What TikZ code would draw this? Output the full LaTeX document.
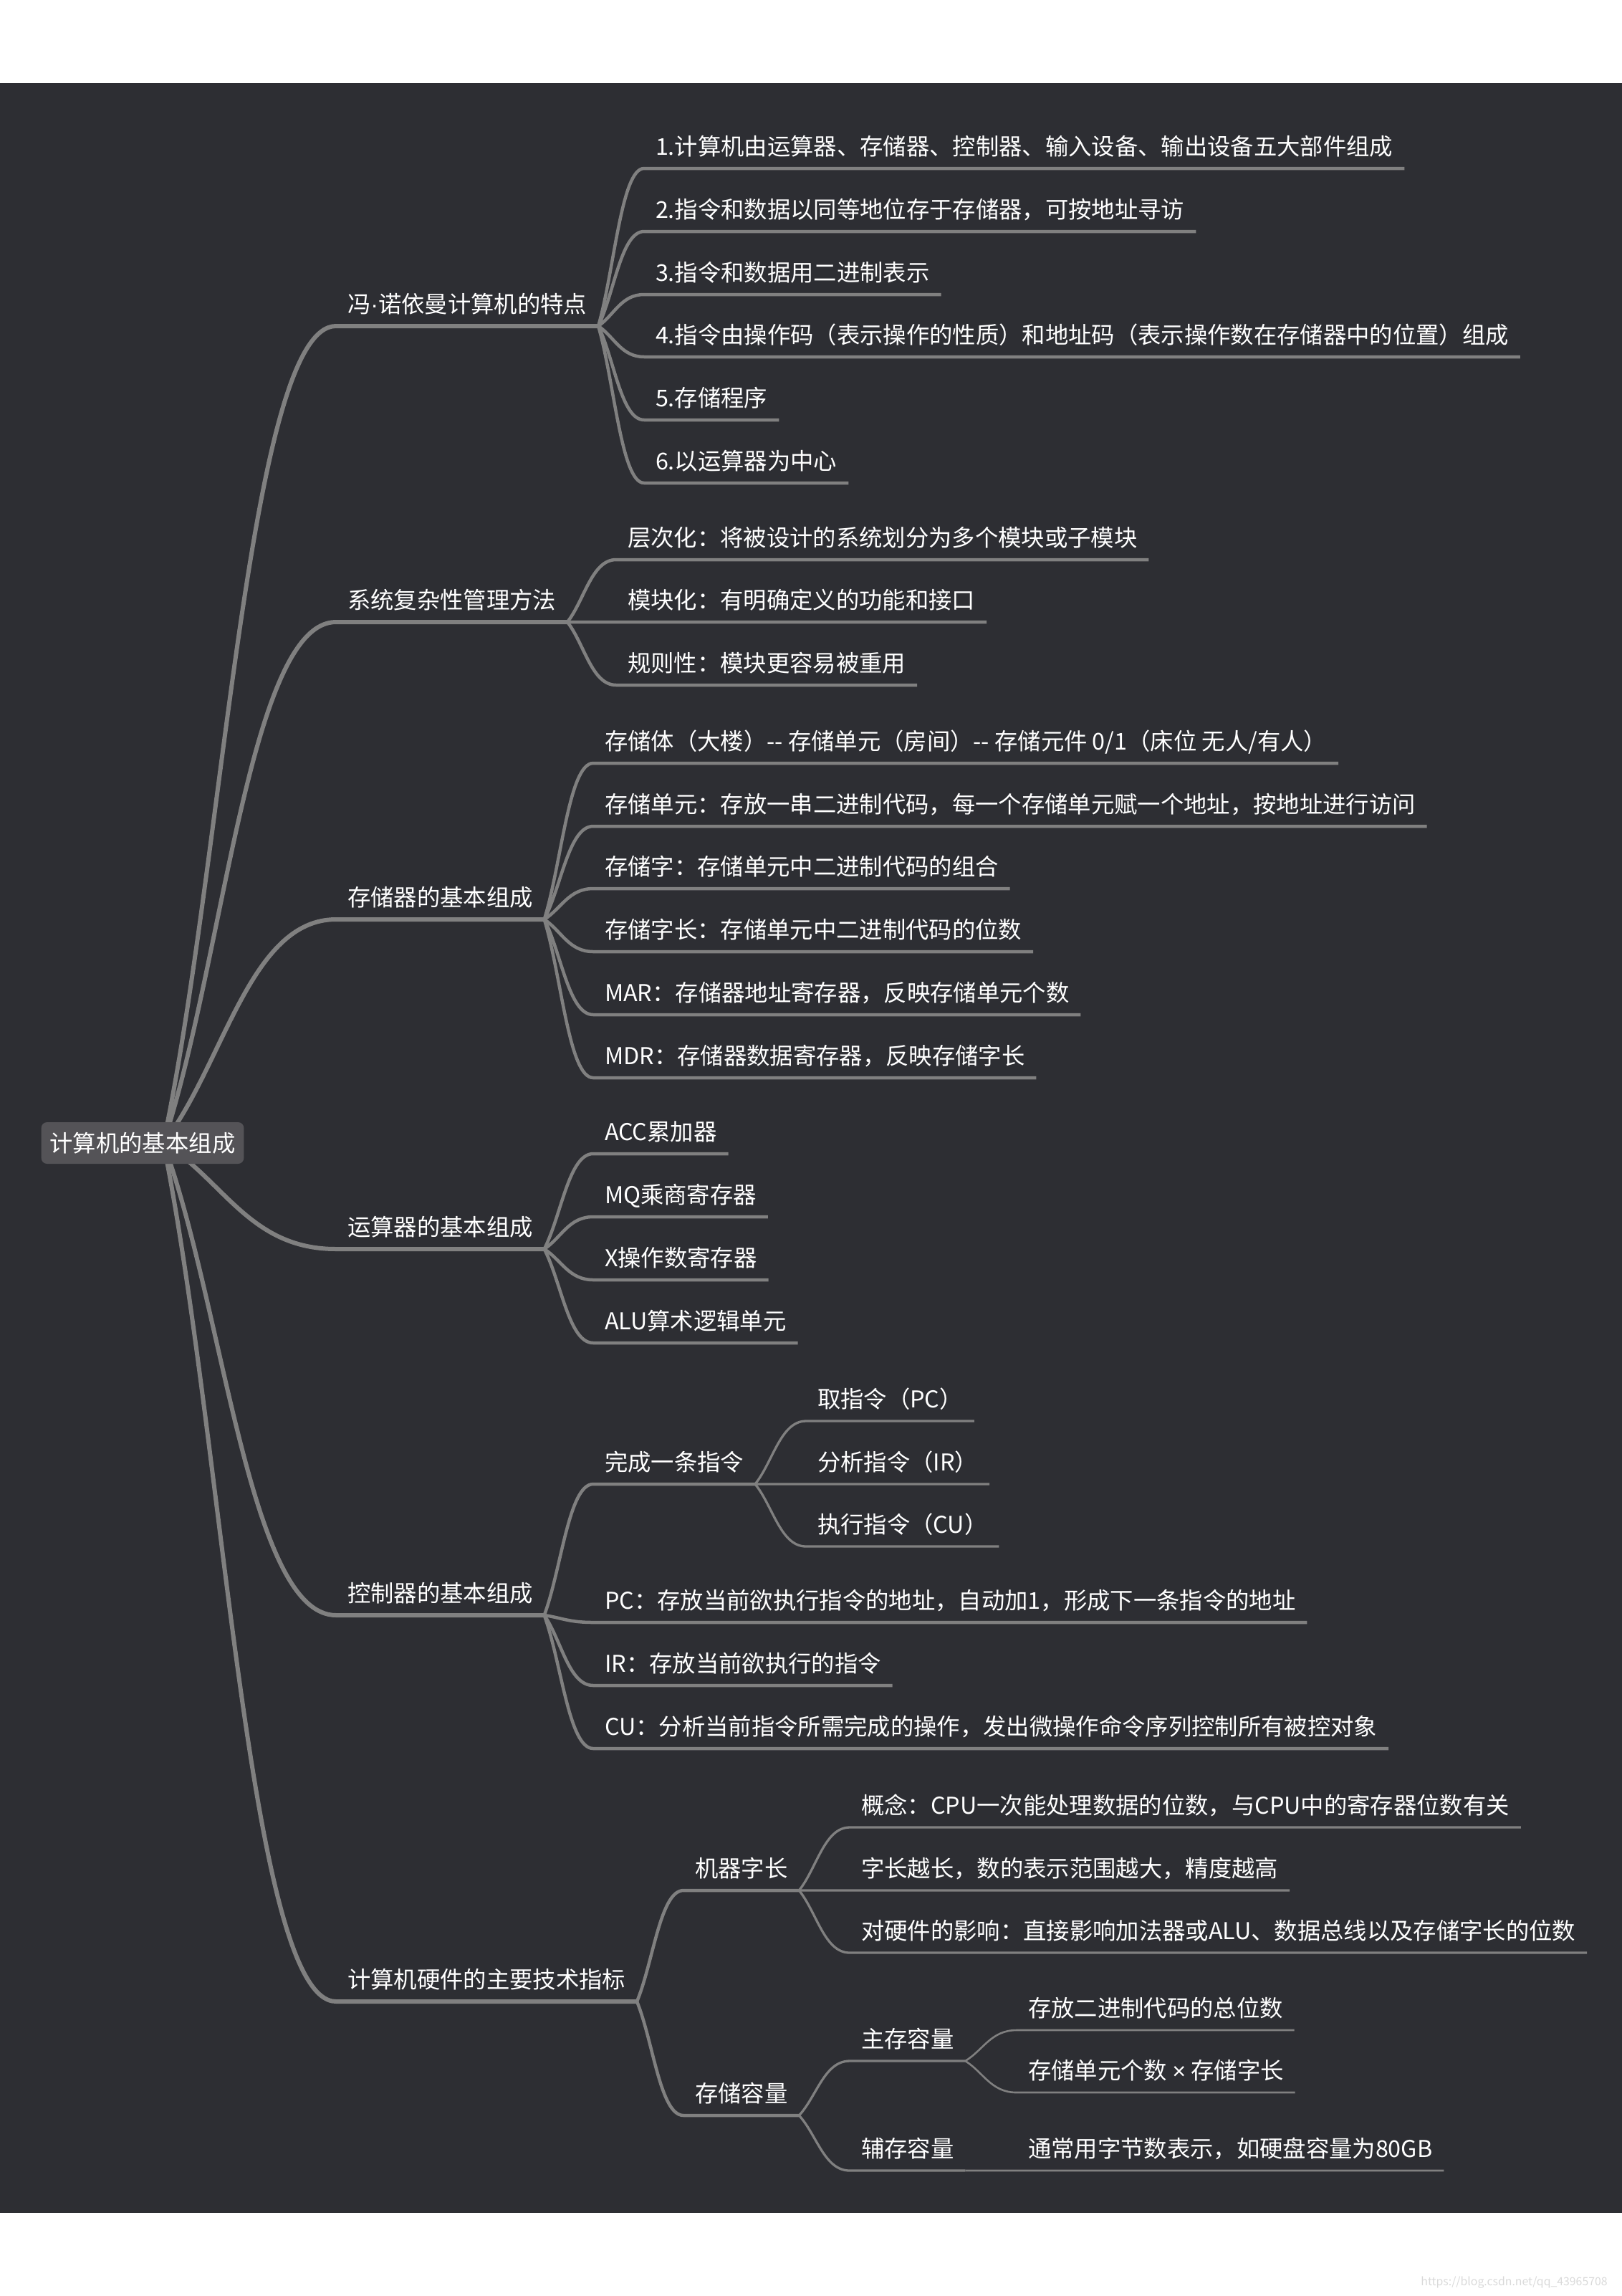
\documentclass[tikz,border=0pt]{standalone}
\usepackage{fontspec}
\setmainfont{Noto Sans CJK SC}
\newfontfamily\latinfont{Liberation Sans}
\usepackage{tikz}
\usetikzlibrary{calc}
\definecolor{canvas}{HTML}{2D2E33}
\definecolor{linegray}{HTML}{808080}
\definecolor{rootfill}{HTML}{545357}
\definecolor{markgray}{HTML}{D9D9D9}
\pgfdeclarelayer{background}
\pgfsetlayers{background,main}

\begin{document}
\begin{tikzpicture}[y=-1cm, line cap=round, line join=round,
font=\fontsize{9.2pt}{11pt}\selectfont,
root_style/.style={fill=rootfill,text=white,rounded corners=0.08cm,minimum height=0.58cm,inner xsep=0.12cm},
topic_style/.style={anchor=south west,text=white,inner xsep=0.16cm,inner ysep=0.13cm,text depth=0.06cm,outer sep=0pt},
branch_curve/.style={to path={.. controls ($(\tikztostart)!0.35!(\tikztotarget)$) and ($(\tikztotarget)!0.5!(\tikztostart |- \tikztotarget)$) .. (\tikztotarget)}},
edge_one/.style={draw=linegray, line width=0.06cm},
edge_two/.style={draw=linegray, line width=0.045cm},
edge_three/.style={draw=linegray, line width=0.033cm},
edge_four/.style={draw=linegray, line width=0.026cm}]
\useasboundingbox (0,0) rectangle (22.64,32.04);

\node[root_style] (root) at (1.99,15.95) {计算机的基本组成};
\coordinate (rootc) at ([xshift=0.29cm]root.center);

% first branch
\node[topic_style] (feat) at (4.69,4.55) {冯{\latinfont ·}诺依曼计算机的特点};
\node[topic_style] (feat1) at (8.99,2.35) {1.计算机由运算器、存储器、控制器、输入设备、输出设备五大部件组成};
\node[topic_style] (feat2) at (8.99,3.23) {2.指令和数据以同等地位存于存储器，可按地址寻访};
\node[topic_style] (feat3) at (8.99,4.11) {3.指令和数据用二进制表示};
\node[topic_style] (feat4) at (8.99,4.98) {4.指令由操作码（表示操作的性质）和地址码（表示操作数在存储器中的位置）组成};
\node[topic_style] (feat5) at (8.99,5.86) {5.存储程序};
\node[topic_style] (feat6) at (8.99,6.74) {6.以运算器为中心};

\node[topic_style] (sys) at (4.69,8.68) {系统复杂性管理方法};
\node[topic_style] (sys1) at (8.60,7.81) {层次化：将被设计的系统划分为多个模块或子模块};
\node[topic_style] (sys2) at (8.60,8.68) {模块化：有明确定义的功能和接口};
\node[topic_style] (sys3) at (8.60,9.56) {规则性：模块更容易被重用};

\node[topic_style] (mem) at (4.69,12.83) {存储器的基本组成};
\node[topic_style] (mem1) at (8.28,10.65) {存储体（大楼）-{}- 存储单元（房间）-{}- 存储元件 0/1（床位 无人/有人）};
\node[topic_style] (mem2) at (8.28,11.53) {存储单元：存放一串二进制代码，每一个存储单元赋一个地址，按地址进行访问};
\node[topic_style] (mem3) at (8.28,12.40) {存储字：存储单元中二进制代码的组合};
\node[topic_style] (mem4) at (8.28,13.28) {存储字长：存储单元中二进制代码的位数};
\node[topic_style] (mem5) at (8.28,14.16) {MAR：存储器地址寄存器，反映存储单元个数};
\node[topic_style] (mem6) at (8.28,15.04) {MDR：存储器数据寄存器，反映存储字长};

\node[topic_style] (alu) at (4.69,17.43) {运算器的基本组成};
\node[topic_style] (alu1) at (8.28,16.10) {ACC累加器};
\node[topic_style] (alu2) at (8.28,16.98) {MQ乘商寄存器};
\node[topic_style] (alu3) at (8.28,17.86) {X操作数寄存器};
\node[topic_style] (alu4) at (8.28,18.74) {ALU算术逻辑单元};

\node[topic_style] (ctl) at (4.69,22.54) {控制器的基本组成};
\node[topic_style] (ctl1) at (8.28,20.71) {完成一条指令};
\node[topic_style] (ins1) at (11.25,19.83) {取指令（PC）};
\node[topic_style] (ins2) at (11.25,20.71) {分析指令（IR）};
\node[topic_style] (ins3) at (11.25,21.58) {执行指令（CU）};
\node[topic_style] (ctl2) at (8.28,22.64) {PC：存放当前欲执行指令的地址，自动加1，形成下一条指令的地址};
\node[topic_style] (ctl3) at (8.28,23.52) {IR：存放当前欲执行的指令};
\node[topic_style] (ctl4) at (8.28,24.40) {CU：分析当前指令所需完成的操作，发出微操作命令序列控制所有被控对象};

\node[topic_style] (hw) at (4.69,27.93) {计算机硬件的主要技术指标};
\node[topic_style] (word) at (9.54,26.38) {机器字长};
\node[topic_style] (word1) at (11.86,25.50) {概念：CPU一次能处理数据的位数，与CPU中的寄存器位数有关};
\node[topic_style] (word2) at (11.86,26.38) {字长越长，数的表示范围越大，精度越高};
\node[topic_style] (word3) at (11.86,27.25) {对硬件的影响：直接影响加法器或ALU、数据总线以及存储字长的位数};
\node[topic_style] (cap) at (9.54,29.52) {存储容量};
\node[topic_style] (mainm) at (11.86,28.76) {主存容量};
\node[topic_style] (main1) at (14.19,28.33) {存放二进制代码的总位数};
\node[topic_style] (main2) at (14.19,29.20) {存储单元个数 {\latinfont ×} 存储字长};
\node[topic_style] (aux) at (11.86,30.29) {辅存容量};
\node[topic_style] (aux1) at (14.19,30.29) {通常用字节数表示，如硬盘容量为80GB};

\node[text=markgray, font=\fontsize{4.5pt}{5pt}\selectfont, anchor=east] (mark) at (22.56,31.85) {https://blog.csdn.net/qq\_43965708};

\begin{pgfonlayer}{background}
\fill[canvas] (0,1.16) rectangle (22.64,30.88);

\draw[edge_one] (rootc) to[branch_curve] (feat.south west) -- (feat.south east);
\draw[edge_one] (rootc) to[branch_curve] (sys.south west) -- (sys.south east);
\draw[edge_one] (rootc) to[branch_curve] (mem.south west) -- (mem.south east);
\draw[edge_one] (rootc) to[branch_curve] (alu.south west) -- (alu.south east);
\draw[edge_one] (rootc) to[branch_curve] (ctl.south west) -- (ctl.south east);
\draw[edge_one] (rootc) to[branch_curve] (hw.south west) -- (hw.south east);

\draw[edge_two] (feat.south east) to[branch_curve] (feat1.south west) -- (feat1.south east);
\draw[edge_two] (feat.south east) to[branch_curve] (feat2.south west) -- (feat2.south east);
\draw[edge_two] (feat.south east) to[branch_curve] (feat3.south west) -- (feat3.south east);
\draw[edge_two] (feat.south east) to[branch_curve] (feat4.south west) -- (feat4.south east);
\draw[edge_two] (feat.south east) to[branch_curve] (feat5.south west) -- (feat5.south east);
\draw[edge_two] (feat.south east) to[branch_curve] (feat6.south west) -- (feat6.south east);

\draw[edge_two] (sys.south east) to[branch_curve] (sys1.south west) -- (sys1.south east);
\draw[edge_two] (sys.south east) to[branch_curve] (sys2.south west) -- (sys2.south east);
\draw[edge_two] (sys.south east) to[branch_curve] (sys3.south west) -- (sys3.south east);

\draw[edge_two] (mem.south east) to[branch_curve] (mem1.south west) -- (mem1.south east);
\draw[edge_two] (mem.south east) to[branch_curve] (mem2.south west) -- (mem2.south east);
\draw[edge_two] (mem.south east) to[branch_curve] (mem3.south west) -- (mem3.south east);
\draw[edge_two] (mem.south east) to[branch_curve] (mem4.south west) -- (mem4.south east);
\draw[edge_two] (mem.south east) to[branch_curve] (mem5.south west) -- (mem5.south east);
\draw[edge_two] (mem.south east) to[branch_curve] (mem6.south west) -- (mem6.south east);

\draw[edge_two] (alu.south east) to[branch_curve] (alu1.south west) -- (alu1.south east);
\draw[edge_two] (alu.south east) to[branch_curve] (alu2.south west) -- (alu2.south east);
\draw[edge_two] (alu.south east) to[branch_curve] (alu3.south west) -- (alu3.south east);
\draw[edge_two] (alu.south east) to[branch_curve] (alu4.south west) -- (alu4.south east);

\draw[edge_two] (ctl.south east) to[branch_curve] (ctl1.south west) -- (ctl1.south east);
\draw[edge_two] (ctl.south east) to[branch_curve] (ctl2.south west) -- (ctl2.south east);
\draw[edge_two] (ctl.south east) to[branch_curve] (ctl3.south west) -- (ctl3.south east);
\draw[edge_two] (ctl.south east) to[branch_curve] (ctl4.south west) -- (ctl4.south east);
\draw[edge_three] (ctl1.south east) to[branch_curve] (ins1.south west) -- (ins1.south east);
\draw[edge_three] (ctl1.south east) to[branch_curve] (ins2.south west) -- (ins2.south east);
\draw[edge_three] (ctl1.south east) to[branch_curve] (ins3.south west) -- (ins3.south east);

\draw[edge_two] (hw.south east) to[branch_curve] (word.south west) -- (word.south east);
\draw[edge_two] (hw.south east) to[branch_curve] (cap.south west) -- (cap.south east);
\draw[edge_three] (word.south east) to[branch_curve] (word1.south west) -- (word1.south east);
\draw[edge_three] (word.south east) to[branch_curve] (word2.south west) -- (word2.south east);
\draw[edge_three] (word.south east) to[branch_curve] (word3.south west) -- (word3.south east);
\draw[edge_three] (cap.south east) to[branch_curve] (mainm.south west) -- (mainm.south east);
\draw[edge_three] (cap.south east) to[branch_curve] (aux.south west) -- (aux.south east);
\draw[edge_four] (mainm.south east) to[branch_curve] (main1.south west) -- (main1.south east);
\draw[edge_four] (mainm.south east) to[branch_curve] (main2.south west) -- (main2.south east);
\draw[edge_four] (aux.south east) to[branch_curve] (aux1.south west) -- (aux1.south east);
\end{pgfonlayer}
\end{tikzpicture}
\end{document}
